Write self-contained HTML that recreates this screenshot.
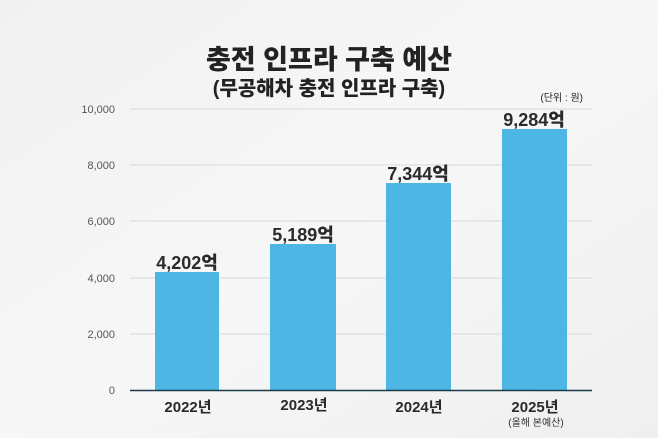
<!DOCTYPE html>
<html><head><meta charset="utf-8"><style>
html,body{margin:0;padding:0;background:#f4f4f4}
svg{display:block}
text{font-family:"Liberation Sans","Noto Sans CJK KR",sans-serif}
</style></head><body>
<svg width="658" height="438" viewBox="0 0 658 438" xmlns="http://www.w3.org/2000/svg">
<defs><linearGradient id="bg" x1="0" y1="0" x2="1" y2="1">
<stop offset="0" stop-color="#f1f1f1"/><stop offset="0.5" stop-color="#f7f7f7"/><stop offset="1" stop-color="#efefef"/></linearGradient></defs>
<rect width="658" height="438" fill="url(#bg)"/>
<text x="329" y="69" text-anchor="middle" font-size="27" font-weight="900" fill="#222">충전 인프라 구축 예산</text>
<text x="329" y="95" text-anchor="middle" font-size="20" font-weight="900" fill="#222">(무공해차 충전 인프라 구축)</text>
<text x="583" y="101" text-anchor="end" font-size="10" fill="#222">(단위 : 원)</text>
<g stroke="#e2e2e2" stroke-width="1.5">
<line x1="130" y1="109" x2="592" y2="109"/>
<line x1="130" y1="165" x2="592" y2="165"/>
<line x1="130" y1="221" x2="592" y2="221"/>
<line x1="130" y1="278" x2="592" y2="278"/>
<line x1="130" y1="334" x2="592" y2="334"/>
</g>
<g font-size="11" fill="#555" text-anchor="end">
<text x="115" y="113">10,000</text>
<text x="115" y="169">8,000</text>
<text x="115" y="225">6,000</text>
<text x="115" y="282">4,000</text>
<text x="115" y="338">2,000</text>
<text x="115" y="394">0</text>
</g>
<g fill="#4db6e4">
<rect x="155" y="272" width="64" height="118"/>
<rect x="270" y="244" width="66" height="146"/>
<rect x="386" y="183" width="65" height="207"/>
<rect x="502" y="129" width="65" height="261"/>
</g>
<line x1="130" y1="390.5" x2="592" y2="390.5" stroke="#1d3a4a" stroke-width="1.5"/>
<g font-size="18" font-weight="900" fill="#2a2a2a" text-anchor="middle">
<text x="187" y="269">4,202억</text>
<text x="303" y="241">5,189억</text>
<text x="418" y="180">7,344억</text>
<text x="534" y="126">9,284억</text>
</g>
<g font-size="15" font-weight="bold" fill="#2a2a2a" text-anchor="middle">
<text x="188" y="412">2022년</text>
<text x="304" y="410">2023년</text>
<text x="419" y="412">2024년</text>
<text x="535" y="412">2025년</text>
</g>
<text x="536" y="426" text-anchor="middle" font-size="10" fill="#333">(올해 본예산)</text>
</svg>
</body></html>
